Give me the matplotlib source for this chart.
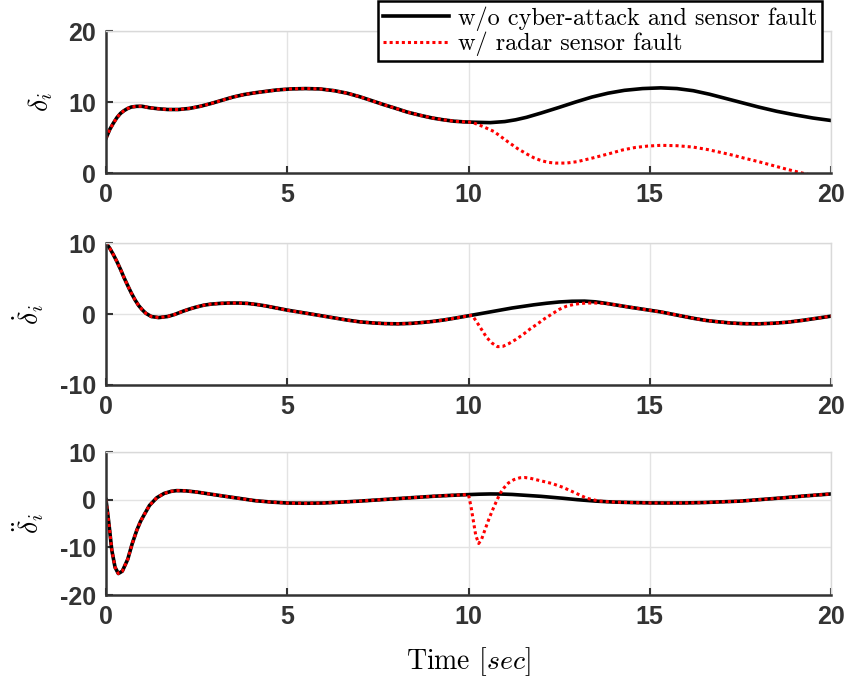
import matplotlib
matplotlib.use('Agg')
import matplotlib.pyplot as plt

plt.rcParams['axes.unicode_minus'] = False
plt.rcParams['mathtext.fontset'] = 'cm'

# ---- data ----
# top panel: delta_i
t1 = [0, 0.1, 0.2, 0.3, 0.4, 0.5, 0.6, 0.7, 0.85, 1.0, 1.2, 1.45, 1.7, 2.0, 2.3, 2.6, 2.9, 3.2,
      3.5, 3.8, 4.1, 4.4, 4.7, 5.1, 5.5, 5.9, 6.3, 6.65, 7.0, 7.3, 7.65, 8.0, 8.3, 8.65, 9.0,
      9.3, 9.6, 9.9, 10.2, 10.6, 11.0, 11.3, 11.6, 12.0, 12.5, 12.95, 13.4, 13.85, 14.3, 14.8,
      15.3, 15.75, 16.2, 16.65, 17.1, 17.55, 18.0, 18.5, 19.0, 19.5, 20.0]
d1 = [4.9, 6.1, 7.0, 7.8, 8.4, 8.8, 9.1, 9.3, 9.4, 9.4, 9.2, 9.05, 8.95, 8.95, 9.1, 9.4, 9.8, 10.25,
      10.7, 11.05, 11.3, 11.5, 11.7, 11.85, 11.9, 11.85, 11.6, 11.25, 10.75, 10.25, 9.65, 9.1, 8.6, 8.15, 7.75,
      7.5, 7.3, 7.2, 7.15, 7.1, 7.25, 7.5, 7.85, 8.45, 9.25, 10.0, 10.7, 11.25, 11.65, 11.9,
      12.0, 11.9, 11.6, 11.1, 10.5, 9.9, 9.3, 8.7, 8.2, 7.75, 7.4]
t1_f = [10.1, 10.4, 10.7, 10.9, 11.1, 11.35, 11.6, 11.8, 12.0, 12.2, 12.4, 12.7, 13.0, 13.45, 13.9,
        14.25, 14.6, 14.95, 15.3, 15.75, 16.2, 16.6, 17.0, 17.3, 17.6, 18.0, 18.4, 18.8, 19.2, 20.0]
d1_f = [7.15, 6.55, 5.85, 5.1, 4.35, 3.45, 2.7, 2.15, 1.75, 1.5, 1.4, 1.4, 1.6, 2.15, 2.75,
        3.25, 3.6, 3.8, 3.9, 3.85, 3.65, 3.3, 2.85, 2.5, 2.1, 1.6, 1.05, 0.5, 0.0, -1.0]

# middle panel: delta_i dot
t2 = [0, 0.1, 0.2, 0.3, 0.4, 0.5, 0.6, 0.7, 0.8, 0.9, 1.0, 1.1, 1.25, 1.45, 1.7, 1.9, 2.1, 2.3,
      2.5, 2.7, 2.9, 3.15, 3.4, 3.65, 3.9, 4.15, 4.4, 4.7, 5.0, 5.3, 5.6, 5.95, 6.3, 6.65,
      7.0, 7.35, 7.7, 8.05, 8.4, 8.7, 9.0, 9.3, 9.6, 10.05, 10.6, 11.2, 11.8, 12.15, 12.5, 12.85,
      13.2, 13.5, 13.8, 14.1, 14.4, 14.85, 15.3, 15.75, 16.2, 16.55, 16.9, 17.25, 17.6, 18.0,
      18.4, 18.8, 19.2, 19.6, 20.0]
d2 = [10, 9.3, 8.4, 7.4, 6.3, 5.1, 4.0, 2.95, 2.0, 1.2, 0.6, 0.1, -0.35, -0.5, -0.35, -0.05, 0.35, 0.7,
      1.0, 1.25, 1.4, 1.5, 1.55, 1.55, 1.5, 1.35, 1.15, 0.85, 0.55, 0.3, 0.05, -0.25, -0.55, -0.85,
      -1.1, -1.25, -1.35, -1.38, -1.32, -1.2, -1.05, -0.85, -0.6, -0.2, 0.3, 0.85, 1.3, 1.52, 1.7, 1.8,
      1.82, 1.72, 1.5, 1.25, 1.0, 0.65, 0.3, -0.15, -0.6, -0.9, -1.1, -1.27, -1.36, -1.38,
      -1.3, -1.15, -0.9, -0.6, -0.3]
t2_f = [10.1, 10.2, 10.3, 10.4, 10.5, 10.65, 10.8, 10.95, 11.1, 11.3, 11.5, 11.7, 11.9, 12.1,
        12.3, 12.5, 12.7, 12.9, 13.1, 13.3, 13.5, 13.7]
d2_f = [-0.2, -0.9, -1.7, -2.5, -3.3, -4.1, -4.6, -4.55, -4.2, -3.6, -2.9, -2.1, -1.4, -0.65,
        0.0, 0.65, 1.1, 1.35, 1.5, 1.55, 1.55, 1.52]

# bottom panel: delta_i ddot
t3 = [0, 0.08, 0.16, 0.25, 0.34, 0.45, 0.6, 0.72, 0.85, 0.95, 1.05, 1.2, 1.4, 1.6, 1.8, 1.95,
      2.2, 2.5, 2.85, 3.2, 3.65, 4.1, 4.55, 5.0, 5.5, 6.0, 6.5, 7.0, 7.5, 8.0, 8.5, 9.0, 9.5,
      9.95, 10.3, 10.6, 10.9, 11.2, 11.6, 12.0, 12.3, 12.6, 13.0, 13.5, 14.0, 14.5, 15.0, 15.5,
      16.0, 16.5, 17.0, 17.5, 18.1, 18.7, 19.3, 20.0]
d3 = [0, -5, -10.6, -14.2, -15.5, -15.0, -12.5, -9.3, -6.4, -4.6, -3.2, -1.2, 0.4, 1.3, 1.75, 1.9,
      1.85, 1.6, 1.2, 0.8, 0.3, -0.2, -0.5, -0.7, -0.75, -0.7, -0.5, -0.3, -0.05, 0.2, 0.45, 0.7, 0.9,
      1.05, 1.15, 1.2, 1.18, 1.1, 0.9, 0.7, 0.5, 0.3, 0.0, -0.3, -0.5, -0.6, -0.68, -0.7,
      -0.68, -0.6, -0.45, -0.3, 0.05, 0.4, 0.8, 1.2]
t3_f = [10.0, 10.07, 10.13, 10.2, 10.28, 10.36, 10.45, 10.55, 10.65, 10.76, 10.87, 10.98, 11.1,
        11.25, 11.42, 11.55, 11.7, 11.97, 12.3, 12.6, 12.95, 13.26, 13.6, 13.9]
d3_f = [1.0, -1.5, -4.3, -7.5, -9.2, -8.3, -6.4, -4.3, -2.4, -0.5, 1.3, 2.5, 3.5,
        4.2, 4.6, 4.65, 4.5, 4.0, 3.4, 2.6, 1.4, 0.3, -0.3, -0.45]

labels = ['w/o cyber-attack and sensor fault', 'w/ radar sensor fault']
xticks = [0, 5, 10, 15, 20]


def with_fault(t, d, tf, df):
    # red series = healthy curve outside the fault window
    tt = [x for x in t if x < tf[0]] + tf + [x for x in t if x > tf[-1]]
    dd = [y for x, y in zip(t, d) if x < tf[0]] + df + [y for x, y in zip(t, d) if x > tf[-1]]
    return tt, dd


panels = [
    (t1, d1, t1_f, d1_f, [0, 20], [0, 10, 20], r'$\delta_i$', [0.125, 0.7452, 0.855, 0.209]),
    (t2, d2, t2_f, d2_f, [-10, 10], [-10, 0, 10], r'$\dot{\delta}_i$', [0.125, 0.433, 0.855, 0.209]),
    (t3, d3, t3_f, d3_f, [-20, 10], [-20, -10, 0, 10], r'$\ddot{\delta}_i$', [0.125, 0.1237, 0.855, 0.2106]),
]

fig = plt.figure(figsize=(8.48, 6.79), dpi=100)
axes = []
for t, d, tf, df, ylim, yt, ylab, pos in panels:
    ax = fig.add_axes(pos)
    tr, dr = with_fault(t, d, tf, df)
    ax.plot(t, d, color='black', linewidth=2.6, label=labels[0])
    ax.plot(tr, dr, color='red', linewidth=2.2, linestyle=(0, (1, 1)), label=labels[1])
    ax.set_xlim(0, 20)
    ax.set_ylim(ylim)
    ax.set_xticks(xticks)
    ax.set_yticks(yt)
    ax.grid(True, color='#e3e3e3', linewidth=1.0)
    ax.set_axisbelow(True)
    for s in ['left', 'bottom']:
        ax.spines[s].set_color('#333333')
        ax.spines[s].set_linewidth(1.8)
    for s in ['top', 'right']:
        ax.spines[s].set_color('#d9d9d9')
        ax.spines[s].set_linewidth(1.0)
    ax.tick_params(direction='in', length=5, width=1.5, color='#333333',
                   labelsize=18, labelcolor='#333333', pad=7, top=False, right=False)
    for lb in ax.get_xticklabels() + ax.get_yticklabels():
        lb.set_fontweight('bold')
        lb.set_family('Liberation Sans')
    ax.set_ylabel(ylab, fontsize=20, labelpad=10)
    axes.append(ax)

axes[2].set_xlabel(r'Time $[sec]$', fontsize=20, family='cmr10', labelpad=12)

leg = axes[0].legend(loc='upper right', bbox_to_anchor=(0.988, 1.211), borderaxespad=0,
                     fancybox=False, framealpha=1, edgecolor='black', handlelength=2.7,
                     handletextpad=0.4, borderpad=0.2, labelspacing=0.05,
                     prop={'family': 'cmr10', 'size': 17.5})
leg.get_frame().set_linewidth(1.8)

plt.savefig('out.png', dpi=100)
